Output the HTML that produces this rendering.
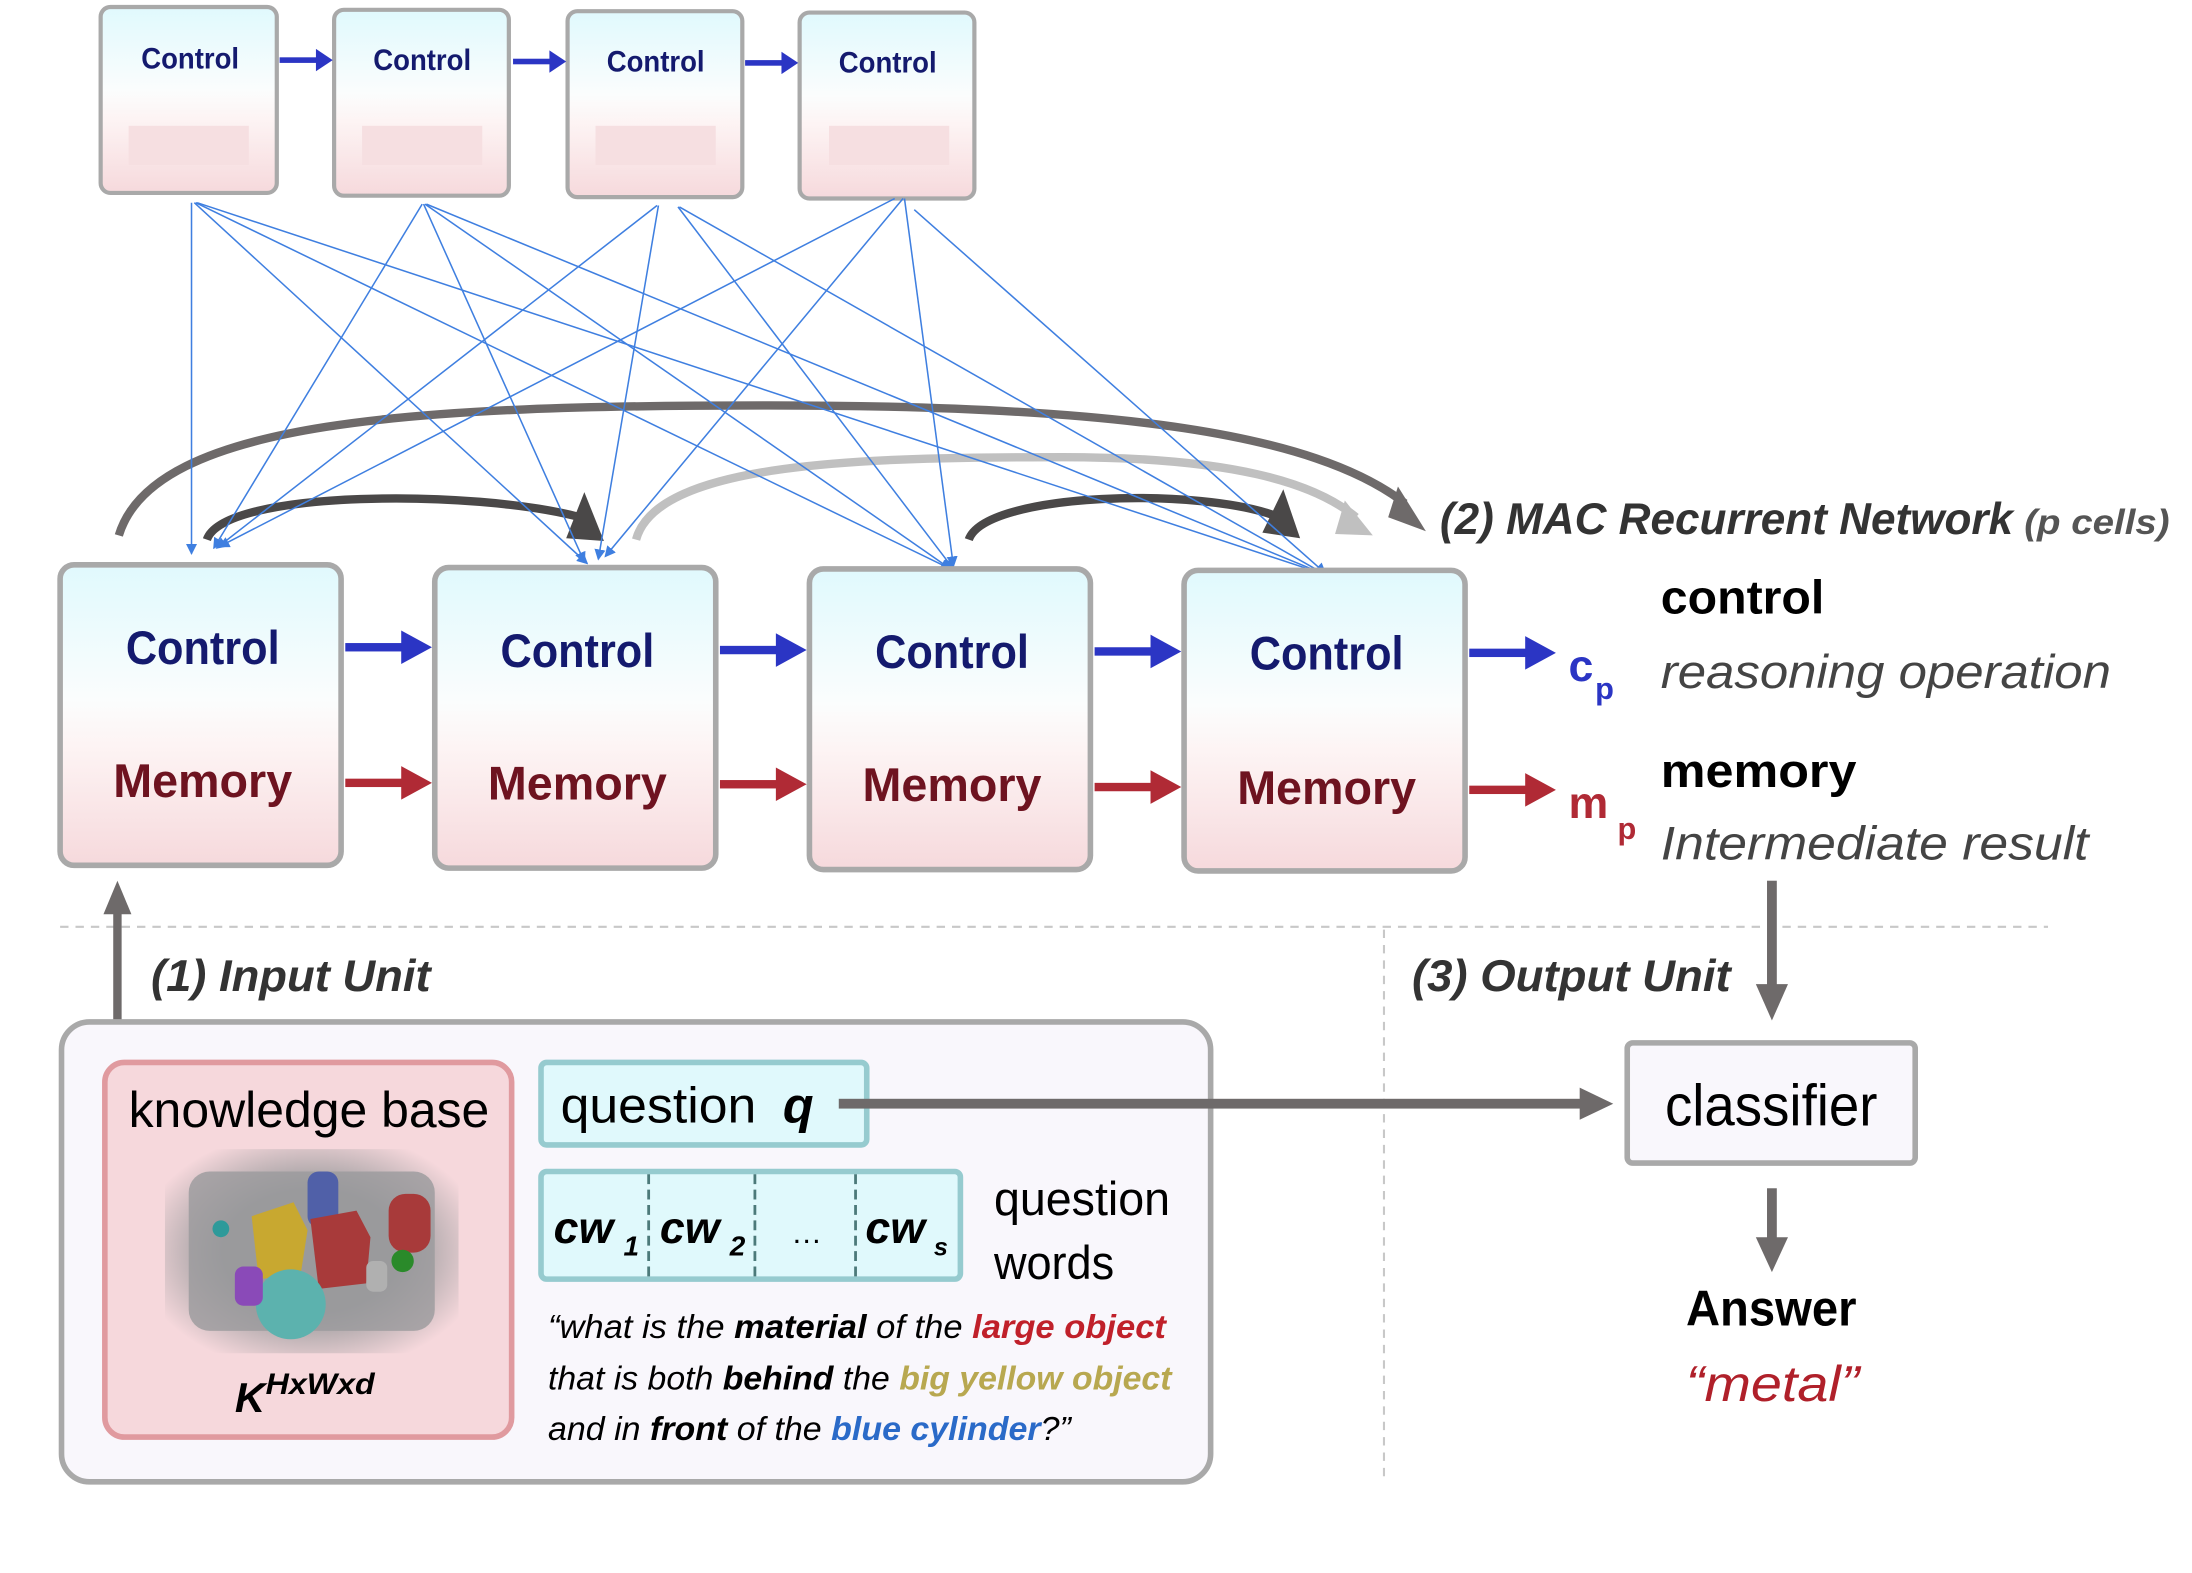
<!DOCTYPE html>
<html><head><meta charset="utf-8"><style>
html,body{margin:0;padding:0;background:#fff;}
svg{display:block;}
text{font-family:"Liberation Sans",sans-serif;}
</style></head><body>
<svg width="2192" height="1573" viewBox="0 0 1568 1125" preserveAspectRatio="xMinYMin meet" xmlns="http://www.w3.org/2000/svg">
<defs>
<linearGradient id="cm" x1="0" y1="0" x2="0" y2="1">
<stop offset="0" stop-color="#e0f9fd"/><stop offset="0.45" stop-color="#fbfdfd"/><stop offset="0.6" stop-color="#fdf4f4"/><stop offset="1" stop-color="#f6d9dc"/>
</linearGradient>
<marker id="bh" markerWidth="8" markerHeight="8" refX="7" refY="4" orient="auto" markerUnits="userSpaceOnUse"><path d="M0,0 L8,4 L0,8 Z" fill="#3f7fe0"/></marker>
<radialGradient id="img" cx="0.5" cy="0.5" r="0.6"><stop offset="0.5" stop-color="#9a9a9c"/><stop offset="1" stop-color="#f6d8dc"/></radialGradient>
</defs>

<g stroke="#a9a9a9" stroke-width="3" fill="url(#cm)">
<rect x="72" y="5" width="126" height="133" rx="7"/>
<rect x="239" y="7" width="125" height="133" rx="7"/>
<rect x="406" y="8" width="125" height="133" rx="7"/>
<rect x="572" y="9" width="125" height="133" rx="7"/>
</g>
<g fill="#f6dfe1"><rect x="92" y="90" width="86" height="28"/><rect x="259" y="90" width="86" height="28"/><rect x="426" y="90" width="86" height="28"/><rect x="593" y="90" width="86" height="28"/></g>
<g font-size="21" font-weight="bold" fill="#141a6e" text-anchor="middle">
<text x="136" y="49" textLength="70" lengthAdjust="spacingAndGlyphs">Control</text>
<text x="302" y="50" textLength="70" lengthAdjust="spacingAndGlyphs">Control</text>
<text x="469" y="51" textLength="70" lengthAdjust="spacingAndGlyphs">Control</text>
<text x="635" y="52" textLength="70" lengthAdjust="spacingAndGlyphs">Control</text>
</g>
<g fill="#2b35c4">
<rect x="200" y="41" width="28" height="4"/><path d="M226,35 L238,43 L226,51Z"/>
<rect x="367" y="42" width="28" height="4"/><path d="M393,36 L405,44 L393,52Z"/>
<rect x="533" y="43" width="28" height="4"/><path d="M559,37 L571,45 L559,53Z"/>
</g>

<g fill="none" stroke-linecap="butt">
<path d="M85,383 C110,300 300,290 550,290 C800,290 940,310 1005,360" stroke="#6e6a6a" stroke-width="6"/>
<path d="M455,386 C470,330 620,327 760,327 C880,327 940,345 970,370" stroke="#c0c0c0" stroke-width="6"/>
<path d="M148,386 C160,350 340,350 415,370" stroke="#4a4848" stroke-width="6"/>
<path d="M693,386 C705,352 860,348 915,370" stroke="#4a4848" stroke-width="6"/>
</g>
<path d="M1000,348 L1020,380 L993,370Z" fill="#6e6a6a"/>
<path d="M962,358 L982,383 L955,382Z" fill="#c0c0c0"/>
<path d="M405,385 L418,352 L432,387Z" fill="#4a4848"/>
<path d="M903,381 L918,350 L930,385Z" fill="#4a4848"/>

<g stroke="#3f7fe0" stroke-width="1.1" fill="none" marker-end="url(#bh)">
<line x1="137" y1="145" x2="137" y2="396"/>
<line x1="139" y1="145" x2="420" y2="403"/>
<line x1="140" y1="145" x2="680" y2="407"/>
<line x1="141" y1="145" x2="948" y2="411"/>
<line x1="302" y1="146" x2="153" y2="392"/>
<line x1="303" y1="146" x2="418" y2="402"/>
<line x1="304" y1="146" x2="680" y2="407"/>
<line x1="305" y1="146" x2="948" y2="411"/>
<line x1="470" y1="147" x2="155" y2="392"/>
<line x1="471" y1="147" x2="428" y2="400"/>
<line x1="485" y1="148" x2="682" y2="407"/>
<line x1="486" y1="148" x2="948" y2="411"/>
<line x1="640" y1="142" x2="157" y2="391"/>
<line x1="646" y1="142" x2="433" y2="398"/>
<line x1="647" y1="142" x2="682" y2="405"/>
<line x1="654" y1="150" x2="948" y2="410"/>
</g>

<g stroke="#a9a9a9" stroke-width="4" fill="url(#cm)">
<rect x="43" y="404" width="201" height="215" rx="10"/>
<rect x="311" y="406" width="201" height="215" rx="10"/>
<rect x="579" y="407" width="201" height="215" rx="10"/>
<rect x="847" y="408" width="201" height="215" rx="10"/>
</g>
<g font-size="34" font-weight="bold" text-anchor="middle">
<g fill="#141a6e">
<text x="145" y="475" textLength="110" lengthAdjust="spacingAndGlyphs">Control</text>
<text x="413" y="477" textLength="110" lengthAdjust="spacingAndGlyphs">Control</text>
<text x="681" y="478" textLength="110" lengthAdjust="spacingAndGlyphs">Control</text>
<text x="949" y="479" textLength="110" lengthAdjust="spacingAndGlyphs">Control</text>
</g>
<g fill="#6e1320">
<text x="145" y="570" textLength="128" lengthAdjust="spacingAndGlyphs">Memory</text>
<text x="413" y="572" textLength="128" lengthAdjust="spacingAndGlyphs">Memory</text>
<text x="681" y="573" textLength="128" lengthAdjust="spacingAndGlyphs">Memory</text>
<text x="949" y="575" textLength="128" lengthAdjust="spacingAndGlyphs">Memory</text>
</g>
</g>
<g fill="#2b35c4">
<rect x="247" y="460" width="44" height="6"/><path d="M287,451 L309,463 L287,475Z"/>
<rect x="515" y="462" width="44" height="6"/><path d="M555,453 L577,465 L555,477Z"/>
<rect x="783" y="463" width="44" height="6"/><path d="M823,454 L845,466 L823,478Z"/>
<rect x="1051" y="464" width="44" height="6"/><path d="M1091,455 L1113,467 L1091,479Z"/>
</g>
<g fill="#b02a35">
<rect x="247" y="557" width="44" height="6"/><path d="M287,548 L309,560 L287,572Z"/>
<rect x="515" y="558" width="44" height="6"/><path d="M555,549 L577,561 L555,573Z"/>
<rect x="783" y="560" width="44" height="6"/><path d="M823,551 L845,563 L823,575Z"/>
<rect x="1051" y="562" width="44" height="6"/><path d="M1091,553 L1113,565 L1091,577Z"/>
</g>

<text x="1030" y="382" font-size="32" font-style="italic" font-weight="bold" fill="#333" textLength="410" lengthAdjust="spacingAndGlyphs">(2) MAC Recurrent Network</text>
<text x="1448" y="382" font-size="25" font-style="italic" font-weight="bold" fill="#555" textLength="104" lengthAdjust="spacingAndGlyphs">(p cells)</text>
<text x="1122" y="487" font-size="32" font-weight="bold" fill="#2b35c4">c</text>
<text x="1141" y="500" font-size="22" font-weight="bold" fill="#2b35c4">p</text>
<text x="1122" y="585" font-size="32" font-weight="bold" fill="#b02a35">m</text>
<text x="1157" y="600" font-size="22" font-weight="bold" fill="#b02a35">p</text>
<text x="1188" y="439" font-size="34" font-weight="bold" fill="#000" textLength="117" lengthAdjust="spacingAndGlyphs">control</text>
<text x="1188" y="492" font-size="34" font-style="italic" fill="#444" textLength="322" lengthAdjust="spacingAndGlyphs">reasoning operation</text>
<text x="1188" y="563" font-size="34" font-weight="bold" fill="#000" textLength="140" lengthAdjust="spacingAndGlyphs">memory</text>
<text x="1188" y="615" font-size="34" font-style="italic" fill="#444" textLength="306" lengthAdjust="spacingAndGlyphs">Intermediate result</text>

<line x1="43" y1="663" x2="1465" y2="663" stroke="#c8c8c8" stroke-width="1.5" stroke-dasharray="6,5"/>
<line x1="990" y1="665" x2="990" y2="1060" stroke="#c8c8c8" stroke-width="1.5" stroke-dasharray="6,5"/>

<rect x="81" y="650" width="6" height="96" fill="#6e6a6a"/>
<path d="M74,654 L84,630 L94,654Z" fill="#6e6a6a"/>

<text x="108" y="709" font-size="32" font-style="italic" font-weight="bold" fill="#333" textLength="200" lengthAdjust="spacingAndGlyphs">(1) Input Unit</text>
<text x="1010" y="709" font-size="32" font-style="italic" font-weight="bold" fill="#333" textLength="228" lengthAdjust="spacingAndGlyphs">(3) Output Unit</text>

<rect x="44" y="731" width="822" height="329" rx="20" fill="#f9f7fc" stroke="#a9a9a9" stroke-width="4"/>
<rect x="75" y="760" width="291" height="268" rx="14" fill="#f6d8dc" stroke="#e09a9f" stroke-width="4"/>
<text x="221" y="806" font-size="36" text-anchor="middle" fill="#000" textLength="258" lengthAdjust="spacingAndGlyphs">knowledge base</text>
<rect x="118" y="822" width="210" height="146" rx="25" fill="url(#img)"/>
<rect x="135" y="838" width="176" height="114" rx="15" fill="#9a9a9c" opacity="0.8"/>
<rect x="220" y="838" width="22" height="40" rx="8" fill="#5060a8"/>
<path d="M180,870 L210,860 L220,880 L215,912 L185,915 Z" fill="#c8a830"/>
<path d="M222,872 L255,866 L265,885 L262,918 L228,922 Z" fill="#a83a3a"/>
<rect x="278" y="854" width="30" height="42" rx="12" fill="#a83a3a"/>
<circle cx="208" cy="933" r="25" fill="#5cb2ae"/>
<rect x="168" y="906" width="20" height="28" rx="6" fill="#8a4ab8"/>
<circle cx="158" cy="879" r="6" fill="#2e9a9a"/>
<circle cx="288" cy="902" r="8" fill="#2a8a2a"/>
<rect x="262" y="902" width="15" height="22" rx="5" fill="#b0b0b0"/>
<text x="168" y="1010" font-size="30" font-style="italic" font-weight="bold" fill="#000">K</text>
<text x="190" y="997" font-size="21" font-style="italic" font-weight="bold" fill="#000" textLength="78" lengthAdjust="spacingAndGlyphs">HxWxd</text>

<rect x="387" y="760" width="233" height="59" rx="4" fill="#e0f9fc" stroke="#96cbcf" stroke-width="4"/>
<text x="401" y="803" font-size="36" fill="#000" textLength="140" lengthAdjust="spacingAndGlyphs">question</text>
<text x="560" y="803" font-size="36" font-style="italic" font-weight="bold" fill="#000">q</text>
<rect x="600" y="786" width="535" height="7" fill="#6e6a6a"/>
<path d="M1130,778 L1154,789.5 L1130,801Z" fill="#6e6a6a"/>

<rect x="387" y="838" width="300" height="77" rx="4" fill="#e0f9fc" stroke="#96cbcf" stroke-width="4"/>
<g stroke="#4c7a7a" stroke-width="2" stroke-dasharray="7,4"><line x1="464" y1="840" x2="464" y2="913"/><line x1="540" y1="840" x2="540" y2="913"/><line x1="612" y1="840" x2="612" y2="913"/></g>
<g font-size="32" font-style="italic" font-weight="bold" fill="#000">
<text x="396" y="889">cw</text><text x="446" y="898" font-size="20">1</text>
<text x="472" y="889">cw</text><text x="522" y="898" font-size="20">2</text>
<text x="566" y="889" font-size="22" font-style="normal" font-weight="normal">…</text>
<text x="619" y="889">cw</text><text x="668" y="898" font-size="18">s</text>
</g>
<text x="711" y="869" font-size="34" fill="#000" textLength="126" lengthAdjust="spacingAndGlyphs">question</text>
<text x="711" y="915" font-size="34" fill="#000" textLength="86" lengthAdjust="spacingAndGlyphs">words</text>

<g font-size="24" font-style="italic" fill="#000">
<text x="392" y="957" textLength="442" lengthAdjust="spacingAndGlyphs">“what is the <tspan font-weight="bold">material</tspan> of the <tspan fill="#c0202a" font-weight="bold">large object</tspan></text>
<text x="392" y="994" textLength="446" lengthAdjust="spacingAndGlyphs">that is both <tspan font-weight="bold">behind</tspan> the <tspan fill="#b8a850" font-weight="bold">big yellow object</tspan></text>
<text x="392" y="1030" textLength="374" lengthAdjust="spacingAndGlyphs">and in <tspan font-weight="bold">front</tspan> of the <tspan fill="#2a6ac8" font-weight="bold">blue cylinder</tspan>?”</text>
</g>

<rect x="1264" y="630" width="7" height="78" fill="#6e6a6a"/>
<path d="M1256,704 L1267.5,730 L1279,704Z" fill="#6e6a6a"/>
<rect x="1164" y="746" width="206" height="86" rx="4" fill="#f9f7fc" stroke="#a9a9a9" stroke-width="4"/>
<text x="1267" y="805" font-size="42" text-anchor="middle" fill="#000" textLength="152" lengthAdjust="spacingAndGlyphs">classifier</text>
<rect x="1264" y="850" width="7" height="38" fill="#6e6a6a"/>
<path d="M1256,885 L1267.5,910 L1279,885Z" fill="#6e6a6a"/>
<text x="1267" y="948" font-size="36" font-weight="bold" text-anchor="middle" fill="#000" textLength="122" lengthAdjust="spacingAndGlyphs">Answer</text>
<text x="1268" y="1002" font-size="36" font-style="italic" text-anchor="middle" fill="#b0202a" textLength="124" lengthAdjust="spacingAndGlyphs">“metal”</text>
</svg>
</body></html>
